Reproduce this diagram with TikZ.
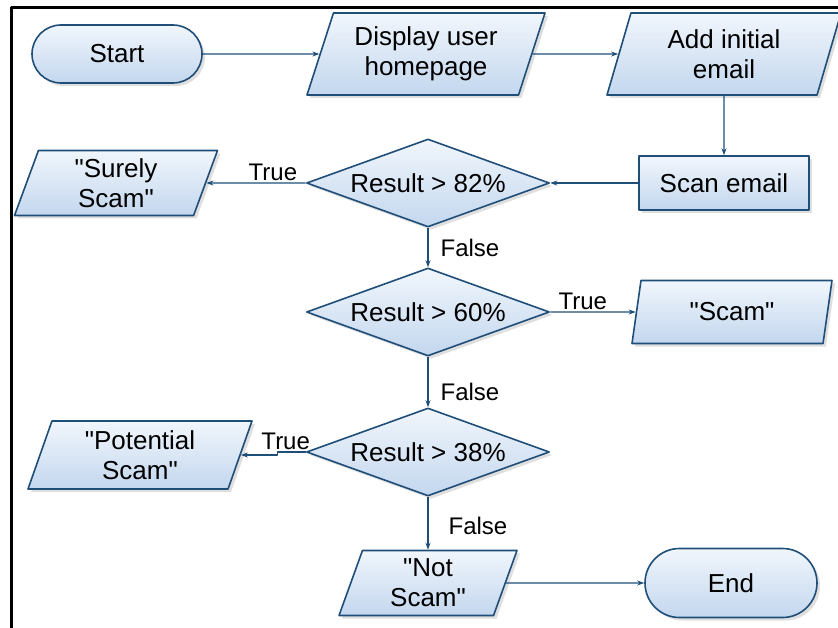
\documentclass[tikz,border=0pt]{standalone}
\usepackage{fontspec}
\setmainfont{Liberation Sans}
\usetikzlibrary{shapes.geometric,shapes.misc,shadows,arrows.meta}
\definecolor{boxline}{HTML}{1F4E79}
\definecolor{boxtop}{HTML}{F1F6FC}
\definecolor{boxbot}{HTML}{C3D7EE}
\newcommand{\qt}{\textquotedbl}
\tikzset{
  box/.style={draw=boxline, line width=1.6pt, top color=boxtop, bottom color=boxbot,
    drop shadow={shadow xshift=3pt, shadow yshift=-3pt, fill=black!25},
    align=center, inner sep=0pt, font=\fontsize{26}{30}\selectfont},
  terminal/.style={box, rounded rectangle},
  process/.style={box, rectangle},
  io/.style={box, trapezium, trapezium left angle=64, trapezium right angle=116,
    trapezium stretches body},
  decision/.style={box, diamond, aspect=2.76, minimum width=243pt, minimum height=88pt},
  flow/.style={draw=boxline, line width=1.2pt, -{Stealth[length=7pt,width=5pt]}},
  tag/.style={font=\fontsize{24}{28}\selectfont, inner sep=2pt}
}
\begin{document}
\begin{tikzpicture}[x=1pt, y=-1pt, line join=round]
 \useasboundingbox (0,0) rectangle (838,628);
 % frame
 \draw[line width=3pt] (11,640) -- (11,8) -- (850,8);
 % top row
 \node[terminal, minimum width=170pt, minimum height=58pt] (start) at (117,54) {Start};
 \node[io, minimum width=238pt, minimum height=82pt] (disp) at (426,54) {Display user\\homepage};
 \node[io, minimum width=234pt, minimum height=82pt] (add) at (724,54) {Add initial\\email};
 \node[process, minimum width=170pt, minimum height=54pt] (scan) at (724,183) {Scan email};
 % decisions
 \node[decision] (d1) at (428,183) {Result > 82\%};
 \node[decision] (d2) at (428,312) {Result > 60\%};
 \node[decision] (d3) at (428,452) {Result > 38\%};
 % outputs
 \node[io, minimum width=203pt, minimum height=65pt] (sure) at (116,183) {\qt Surely\\Scam\qt};
 \node[io, minimum width=200pt, minimum height=63pt] (scam) at (732,312) {\qt Scam\qt};
 \node[io, minimum width=224pt, minimum height=68pt] (pot) at (140,455) {\qt Potential\\Scam\qt};
 \node[io, minimum width=178pt, minimum height=65pt] (ns) at (428,583) {\qt Not\\Scam\qt};
 \node[terminal, minimum width=172pt, minimum height=69pt] (stop) at (731,583) {End};
 % connectors
 \draw[flow] (start) -- (disp);
 \draw[flow] (disp) -- (add);
 \draw[flow] (add) -- (scan);
 \draw[flow] (scan) -- (d1);
 \draw[flow] (d1) -- node[tag, above, pos=0.33]{True} (sure);
 \draw[flow] (d1) -- node[tag, right, xshift=10pt]{False} (d2);
 \draw[flow] (d2) -- node[tag, above, pos=0.38]{True} (scam);
 \draw[flow] (d2) -- node[tag, right, xshift=10pt, pos=0.7]{False} (d3);
 \draw[flow] (d3.west) -- node[tag, above, xshift=-6pt]{True} ++(-28,0) |- (pot.east);
 \draw[flow] (d3) -- node[tag, right, xshift=18pt, pos=0.55]{False} (ns);
 \draw[flow] (ns) -- (stop);
\end{tikzpicture}
\end{document}
